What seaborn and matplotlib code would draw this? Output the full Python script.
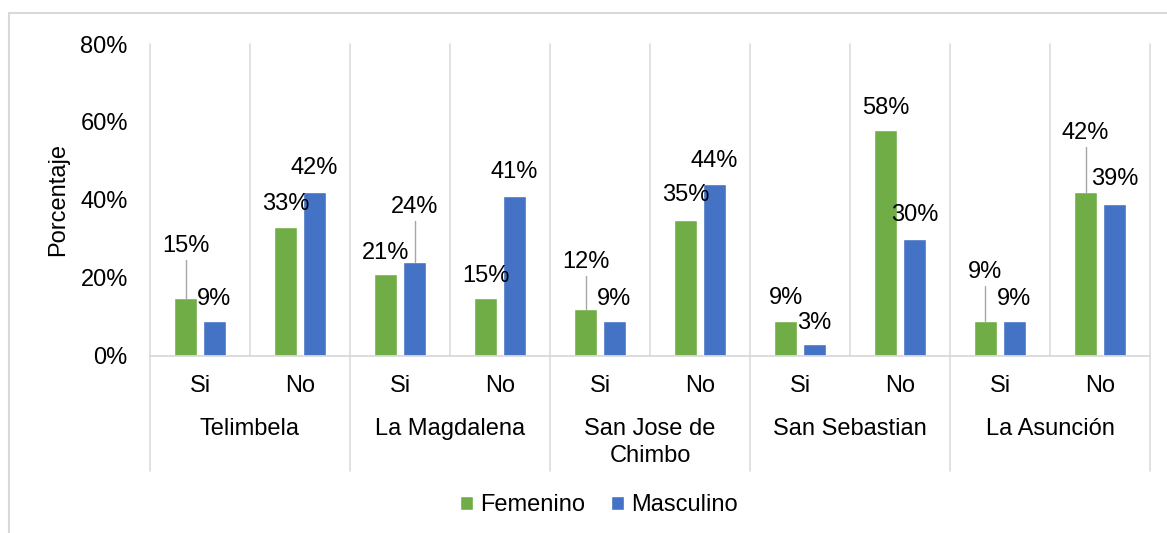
import matplotlib
matplotlib.use("Agg")
import matplotlib.pyplot as plt
from matplotlib.patches import Patch, Rectangle
import pandas as pd
import seaborn as sns

# Data: share of respondents per parish, answer and sex (percent)
sites = ["Telimbela", "La Magdalena", "San Jose de\nChimbo", "San Sebastian", "La Asunción"]
answers = ["Si", "No"]
series = ["Femenino", "Masculino"]
femenino = [15, 33, 21, 15, 12, 35, 9, 58, 9, 42]
masculino = [9, 42, 24, 41, 9, 44, 3, 30, 9, 39]
y_ticks = [0, 20, 40, 60, 80]

# Label placement: vertical offset of each value label above its bar (percent units)
fem_label_dy = [13.3, 6.0, 5.5, 5.6, 12.2, 6.2, 5.8, 5.7, 12.5, 15.3]
mas_label_dy = [5.7, 6.3, 14.2, 6.2, 5.5, 5.9, 5.5, 6.1, 5.6, 6.5]

GREEN = "#70AD47"
BLUE = "#4472C4"
GRID = "#D9D9D9"
LEADER = "#A6A6A6"
FS = 17

sns.set_style("white")
plt.rcParams["font.family"] = ["Liberation Sans", "DejaVu Sans"]
plt.rcParams["text.color"] = "black"
plt.rcParams["axes.labelcolor"] = "black"
plt.rcParams["xtick.color"] = "black"
plt.rcParams["ytick.color"] = "black"

keys = [f"{s}|{a}" for s in sites for a in answers]
df = pd.DataFrame({
    "key": keys * 2,
    "Sexo": [series[0]] * len(keys) + [series[1]] * len(keys),
    "pct": femenino + masculino,
})

W, H = 1167, 533
fig = plt.figure(figsize=(W / 100, H / 100), dpi=100)
ax = fig.add_axes([150 / W, (H - 356) / H, 1000 / W, 312 / H])

sns.barplot(data=df, x="key", y="pct", hue="Sexo", order=keys, hue_order=series,
            palette=[GREEN, BLUE], saturation=1, width=0.58, gap=0.24,
            legend=False, ax=ax, zorder=3)

n = len(keys)
ax.set_xlim(-0.5, n - 0.5)
ax.set_ylim(0, 80)
for sp in ax.spines.values():
    sp.set_visible(False)

# y axis
ax.set_yticks(y_ticks)
ax.set_yticklabels([f"{v}%" for v in y_ticks], fontsize=FS)
ax.tick_params(axis="y", length=0, pad=16, colors="black")
ax.set_ylabel("Porcentaje", fontsize=FS, labelpad=8, color="black")

# x axis: inner (answer) labels
ax.set_xticks(range(n))
ax.set_xticklabels(answers * len(sites), fontsize=FS)
ax.tick_params(axis="x", length=0, pad=14, colors="black")
ax.set_xlabel("")

# category gridlines; group boundaries run down through the label area
for i in range(n + 1):
    xb = i - 0.5
    bottom = -29.5 if i % 2 == 0 else 0
    ax.plot([xb, xb], [bottom, 80], color=GRID, lw=1.1, zorder=1, clip_on=False)
ax.plot([-0.5, n - 0.5], [0, 0], color=GRID, lw=1.3, zorder=4, clip_on=False)

# outer group labels
for g, name in enumerate(sites):
    ax.text(2 * g + 0.5, -15.9, name, ha="center", va="top", fontsize=FS,
            linespacing=1.3, clip_on=False, color="black")

# value labels with leader lines for the ones lifted further away
off = 0.145
for vals, dys, dx in ((femenino, fem_label_dy, -off), (masculino, mas_label_dy, off)):
    for i, (v, dy) in enumerate(zip(vals, dys)):
        x = i + dx
        ax.text(x, v + dy, f"{v}%", ha="center", va="center", fontsize=FS, zorder=5,
                color="black")
        if dy > 10:
            ax.plot([x, x], [v, v + dy - 3.6], color=LEADER, lw=1.0, zorder=4)

# legend
handles = [Patch(facecolor=GREEN, label=series[0]), Patch(facecolor=BLUE, label=series[1])]
fig.legend(handles=handles, loc="center", bbox_to_anchor=(599 / W, 1 - 505 / H), ncol=2,
           frameon=False, fontsize=FS, handlelength=0.55, handleheight=0.55,
           handletextpad=0.3, columnspacing=1.1)

# chart frame
fig.patches.append(Rectangle((9 / W, -0.1), 1.2, 1.1 - 12.5 / H, transform=fig.transFigure,
                             fill=False, edgecolor=GRID, lw=1.5))

fig.savefig("out.png", dpi=100)
